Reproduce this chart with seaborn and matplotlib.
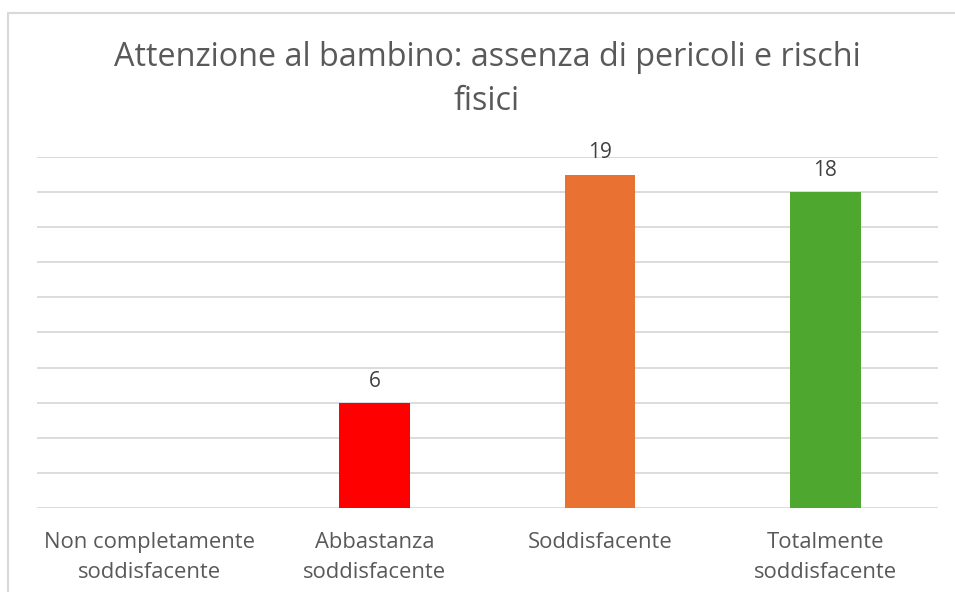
import matplotlib
matplotlib.use("Agg")
import matplotlib.pyplot as plt
import seaborn as sns
import pandas as pd
from matplotlib.patches import Rectangle

categories = ["Non completamente\nsoddisfacente", "Abbastanza\nsoddisfacente",
              "Soddisfacente", "Totalmente\nsoddisfacente"]
values = [0, 6, 19, 18]
colors = ["#156082", "#FF0000", "#E97132", "#4EA72E"]
title = "Attenzione al bambino: assenza di pericoli e rischi\nfisici"

sns.set_theme(style="white")
plt.rcParams['font.family'] = ['Open Sans', 'DejaVu Sans']

df = pd.DataFrame({"cat": categories, "val": values})

fig = plt.figure(figsize=(9.55, 5.92), dpi=100)
ax = fig.add_axes([0.0387, 0.1419, 0.9433, 0.5929])

sns.barplot(data=df, x="cat", y="val", hue="cat", palette=colors,
            width=0.315, legend=False, ax=ax, saturation=1, linewidth=0)

ax.set_ylim(0, 20)
ax.set_xlim(-0.5, 3.5)
ax.set_yticks(range(0, 21, 2))
ax.yaxis.grid(True, color="#d9d9d9", linewidth=1.3)
ax.set_axisbelow(True)
ax.tick_params(axis="y", left=False, labelleft=False)
ax.tick_params(axis="x", bottom=False, labelsize=15.8, labelcolor="#595959", pad=11)
for lbl in ax.get_xticklabels():
    lbl.set_linespacing(1.6)
for s in ax.spines.values():
    s.set_visible(False)
ax.set_xlabel("")
ax.set_ylabel("")

for i, v in enumerate(values):
    if v > 0:
        ax.annotate(str(v), (i, v), xytext=(0, 8), textcoords="offset points",
                    ha="center", va="bottom", fontsize=15, color="#404040")

fig.text(0.51, 0.866, title, ha="center", va="center", fontsize=23.3,
         color="#595959", linespacing=1.45)

rect = Rectangle((8/955, -0.5), 2, 1 - 13/592 + 0.5, transform=fig.transFigure,
                 fill=False, edgecolor="#d9d9d9", linewidth=1.5)
fig.patches.append(rect)

fig.savefig("out.png", dpi=100, facecolor="white")
